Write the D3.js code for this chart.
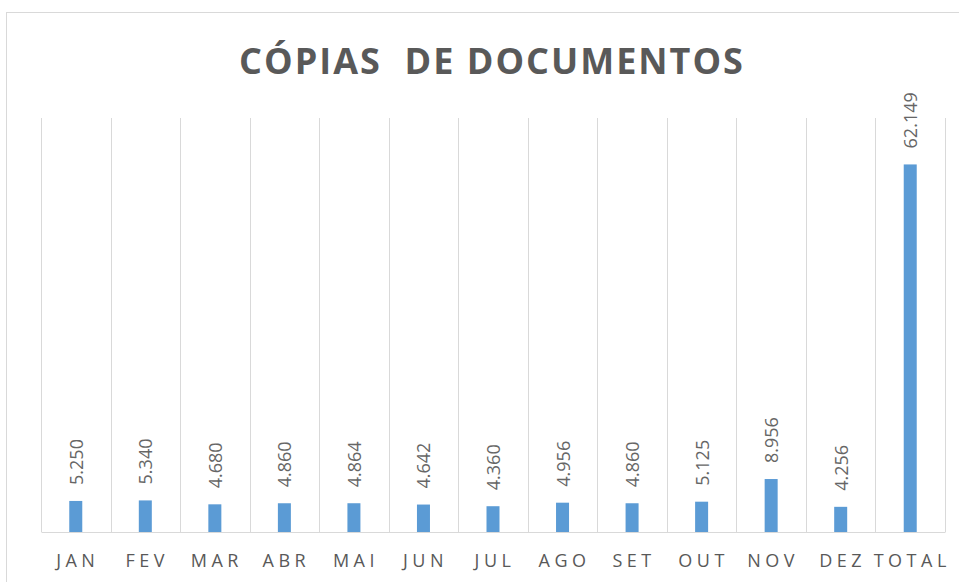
<!DOCTYPE html>
<html>
<head>
<meta charset="utf-8">
<script src="https://cdn.jsdelivr.net/npm/d3@7"></script>
<style>
  body { margin: 0; background: #fff; }
</style>
</head>
<body>
<div id="chart"></div>
<script>
var months = ["JAN", "FEV", "MAR", "ABR", "MAI", "JUN", "JUL", "AGO", "SET", "OUT", "NOV", "DEZ", "TOTAL"];
var copies = [5250, 5340, 4680, 4860, 4864, 4642, 4360, 4956, 4860, 5125, 8956, 4256, 62149];

var W = 959, H = 582;
var margin = {top: 118, right: 14, bottom: 50, left: 41};
var width = W - margin.left - margin.right;
var height = H - margin.top - margin.bottom;

var svg = d3.select("#chart")
  .append("svg")
    .attr("width", W)
    .attr("height", H);

// chart frame
svg.append("rect")
  .attr("x", 6.5).attr("y", 12.5)
  .attr("width", W).attr("height", H)
  .attr("fill", "none")
  .attr("stroke", "#d9d9d9");

svg.append("text")
  .attr("x", 492)
  .attr("y", 74)
  .attr("text-anchor", "middle")
  .style("white-space", "pre")
  .attr("font-family", "Open Sans, sans-serif")
  .attr("font-weight", "bold")
  .attr("font-size", 36)
  .attr("letter-spacing", 2)
  .attr("fill", "#595959")
  .text("CÓPIAS  DE DOCUMENTOS");

var g = svg.append("g")
  .attr("transform", "translate(" + margin.left + "," + margin.top + ")");

var x = d3.scaleBand()
  .domain(months)
  .range([0, width]);

var y = d3.scaleLinear()
  .domain([0, 70000])
  .range([height, 0]);

// vertical separators
var seps = d3.range(months.length + 1);
g.selectAll(".sep")
  .data(seps)
  .enter().append("line")
    .attr("x1", function(i) { return Math.round(i * x.step()) + 0.5; })
    .attr("x2", function(i) { return Math.round(i * x.step()) + 0.5; })
    .attr("y1", 0)
    .attr("y2", height)
    .attr("stroke", "#d9d9d9");

var xAxis = g.append("g")
  .attr("transform", "translate(0," + height + ")")
  .call(d3.axisBottom(x).tickSize(0).tickPadding(22));
xAxis.select(".domain").attr("stroke", "#d9d9d9");
xAxis.selectAll("text")
  .attr("font-family", "Open Sans, sans-serif")
  .attr("font-size", 18)
  .attr("letter-spacing", 4.5)
  .attr("dx", 2)
  .attr("fill", "#595959");

var bw = 13;
g.selectAll(".bar")
  .data(copies)
  .enter().append("rect")
    .attr("x", function(d, i) { return x(months[i]) + x.bandwidth() / 2 - bw / 2; })
    .attr("y", function(d) { return y(d); })
    .attr("width", bw)
    .attr("height", function(d) { return height - y(d); })
    .attr("fill", "#5b9bd5");

var fmt = d3.format(",");
g.selectAll(".lbl")
  .data(copies)
  .enter().append("text")
    .attr("transform", function(d, i) {
      return "translate(" + (x(months[i]) + x.bandwidth() / 2 + 7) + "," + (y(d) - 16) + ") rotate(-90)";
    })
    .attr("font-family", "Open Sans, sans-serif")
    .attr("font-size", 18)
    .attr("fill", "#666666")
    .text(function(d) { return fmt(d).replace(",", "."); });
</script>
</body>
</html>
